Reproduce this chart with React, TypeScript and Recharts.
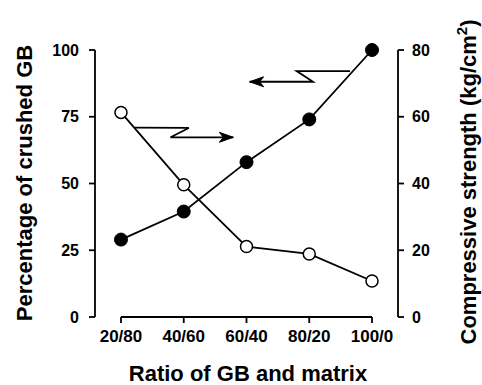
import { LineChart, Line, XAxis, YAxis, ReferenceLine } from 'recharts'

const categories = ['20/80', '40/60', '60/40', '80/20', '100/0']
const crushedGB = [29, 39.5, 58, 74, 100]
const strength = [61.3, 39.6, 21.1, 18.9, 10.8]

const leftTicks = [0, 25, 50, 75, 100]
const rightTicks = [0, 20, 40, 60, 80]

// zig-zag arrows, in (category index, left-axis %) units
const arrowRightX = [0.22, 1.08, 0.79, 1.79]
const arrowRightY = [70.9, 70.8, 67.3, 67.3]
const arrowLeftX = [3.65, 2.8, 3.06, 2.05]
const arrowLeftY = [92.1, 92.1, 88.1, 88.1]

const data = categories.map((c, i) => ({ x: i, crushed: crushedGB[i], strength: strength[i] }))
const arrowRight = arrowRightX.map((x, i) => ({ x, y: arrowRightY[i] }))
const arrowLeft = arrowLeftX.map((x, i) => ({ x, y: arrowLeftY[i] }))

const FONT = '"Liberation Sans", Arial, Helvetica, sans-serif'
const tickStyle = { fill: '#000', fontSize: 16, fontWeight: 'bold' as const }
const xTickStyle = { fill: '#000', fontSize: 17, fontWeight: 'bold' as const }
const LW = 1.8

function arrowHead(dir: number, last: number) {
  return (props: any) => {
    const { cx, cy, index } = props
    if (index !== last) return <g key={`a-${index}`} />
    return (
      <path
        key={`a-${index}`}
        d={`M${cx},${cy} L${cx - dir * 14},${cy - 5} L${cx - dir * 10},${cy} L${cx - dir * 14},${cy + 5} Z`}
        fill="#000"
        stroke="#000"
        strokeWidth={1}
      />
    )
  }
}

export default function App() {
  return (
    <div style={{ position: 'absolute', left: 0, top: 0, fontFamily: FONT, background: '#fff' }}>
      <LineChart width={482} height={385} data={data} margin={{ top: 50, right: 0, bottom: 0, left: 0 }}>
        <XAxis
          dataKey="x"
          type="number"
          domain={[-0.414, 4.414]}
          ticks={[0, 1, 2, 3, 4]}
          tickFormatter={(v: number) => categories[v]}
          allowDataOverflow
          axisLine={false}
          tickLine={{ stroke: '#000', strokeWidth: LW }}
          tickSize={6}
          tickMargin={7}
          tick={xTickStyle}
          height={68}
          label={{
            content: () => (
              <text x={248} y={381} textAnchor="middle" fontSize={22} fontWeight="bold" fill="#000">
                Ratio of GB and matrix
              </text>
            ),
          }}
        />
        <YAxis
          yAxisId="left"
          domain={[0, 100]}
          ticks={leftTicks}
          width={95}
          axisLine={{ stroke: '#000', strokeWidth: LW }}
          tickLine={{ stroke: '#000', strokeWidth: LW }}
          tickSize={6}
          tickMargin={10}
          tick={tickStyle}
          label={{
            content: () => (
              <text
                x={32}
                y={183}
                transform="rotate(-90 32 183)"
                textAnchor="middle"
                fontSize={22}
                fontWeight="bold"
                fill="#000"
              >
                Percentage of crushed GB
              </text>
            ),
          }}
        />
        <YAxis
          yAxisId="right"
          orientation="right"
          domain={[0, 80]}
          ticks={rightTicks}
          width={84}
          axisLine={{ stroke: '#000', strokeWidth: LW }}
          tickLine={{ stroke: '#000', strokeWidth: LW }}
          tickSize={6}
          tickMargin={8}
          tick={tickStyle}
          label={{
            content: () => (
              <text
                x={476}
                y={182}
                transform="rotate(-90 476 182)"
                textAnchor="middle"
                fontSize={22}
                fontWeight="bold"
                fill="#000"
              >
                Compressive strength (kg/cm
                <tspan fontSize={15} dy={-9}>2</tspan>
                <tspan dy={9}>)</tspan>
              </text>
            ),
          }}
        />
        <ReferenceLine
          yAxisId="left"
          segment={[{ x: 0, y: 0 }, { x: 4, y: 0 }]}
          stroke="#000"
          strokeWidth={LW}
        />
        <Line
          yAxisId="left"
          data={arrowRight}
          dataKey="y"
          stroke="#000"
          strokeWidth={LW}
          dot={arrowHead(1, arrowRight.length - 1)}
          activeDot={false}
          isAnimationActive={false}
        />
        <Line
          yAxisId="left"
          data={arrowLeft}
          dataKey="y"
          stroke="#000"
          strokeWidth={LW}
          dot={arrowHead(-1, arrowLeft.length - 1)}
          activeDot={false}
          isAnimationActive={false}
        />
        <Line
          yAxisId="left"
          dataKey="crushed"
          stroke="#000"
          strokeWidth={LW}
          dot={{ r: 6.5, fill: '#000', stroke: '#000', strokeWidth: 1 }}
          activeDot={false}
          isAnimationActive={false}
        />
        <Line
          yAxisId="right"
          dataKey="strength"
          stroke="#000"
          strokeWidth={LW}
          dot={{ r: 6, fill: '#fff', stroke: '#000', strokeWidth: 1.5 }}
          activeDot={false}
          isAnimationActive={false}
        />
      </LineChart>
    </div>
  )
}
